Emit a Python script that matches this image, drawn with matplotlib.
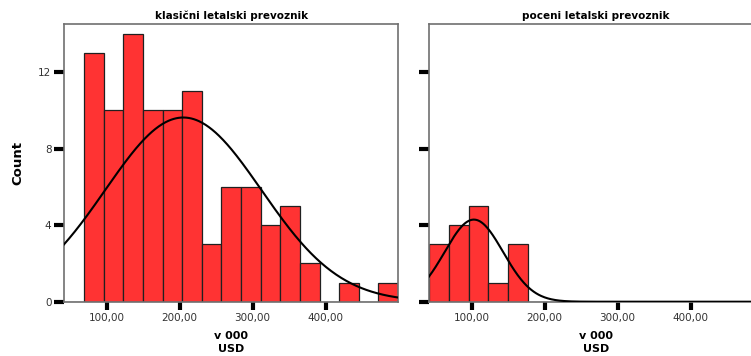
import numpy as np
import matplotlib
matplotlib.use("Agg")
import matplotlib.pyplot as plt
from matplotlib.ticker import FuncFormatter

# Histogram bins (v 000 USD), shared by both carriers
BIN_START = 42.0
BIN_WIDTH = 26.9
N_BINS = 17

# Counts per bin
klasicni_counts = [0, 13, 10, 14, 10, 10, 11, 3, 6, 6, 4, 5, 2, 0, 1, 0, 1]
poceni_counts = [3, 4, 5, 1, 3, 0, 0, 0, 0, 0, 0, 0, 0, 0, 0, 0, 0]

# Fitted normal curve parameters
klasicni_mean, klasicni_sd = 205.0, 107.0
poceni_mean, poceni_sd = 103.0, 40.0

titles = ["klasični letalski prevoznik", "poceni letalski prevoznik"]
x_ticks = [100, 200, 300, 400]
y_ticks = [0, 4, 8, 12]

BAR_COLOR = "#ff3333"
FRAME_COLOR = "#707070"


def normal_curve(x, n, mean, sd):
    return n * BIN_WIDTH * np.exp(-0.5 * ((x - mean) / sd) ** 2) / (sd * np.sqrt(2 * np.pi))


def draw_panel(ax, counts, mean, sd, title, show_ylabels):
    edges = BIN_START + BIN_WIDTH * np.arange(N_BINS)
    ax.bar(edges, counts, width=BIN_WIDTH, align="edge", color=BAR_COLOR,
           edgecolor="#202020", linewidth=0.9, zorder=2)
    xs = np.linspace(41.5, 499.5, 400)
    ax.plot(xs, normal_curve(xs, sum(counts), mean, sd), color="black",
            linewidth=1.5, zorder=3)

    ax.set_xlim(41.5, 499.5)
    ax.set_ylim(0, 14.5)
    ax.set_xticks(x_ticks)
    ax.set_yticks(y_ticks)
    ax.xaxis.set_major_formatter(FuncFormatter(lambda v, p: f"{v:.2f}".replace(".", ",")))
    ax.tick_params(axis="x", length=6, width=3, color="black", labelsize=7.5,
                   labelcolor="#333333", pad=2)
    ax.tick_params(axis="y", length=7, width=3, color="black", labelsize=7.5,
                   labelcolor="#333333", pad=2, labelleft=show_ylabels)
    for sp in ax.spines.values():
        sp.set_color(FRAME_COLOR)
        sp.set_linewidth(1.2)

    ax.set_title(title, fontsize=7.5, fontweight="bold", pad=4)
    ax.set_xlabel("v 000\nUSD", fontsize=8, fontweight="bold", labelpad=6,
                  linespacing=1.4)


fig = plt.figure(figsize=(7.51, 3.56), dpi=100)
ax1 = fig.add_axes([0.0852, 0.1525, 0.4451, 0.7792])
ax2 = fig.add_axes([0.5712, 0.1525, 0.4451, 0.7792])

draw_panel(ax1, klasicni_counts, klasicni_mean, klasicni_sd, titles[0], True)
draw_panel(ax2, poceni_counts, poceni_mean, poceni_sd, titles[1], False)

fig.text(0.024, 0.542, "Count", rotation=90, ha="center", va="center",
         fontsize=9.5, fontweight="bold")

fig.savefig("out.png", dpi=100)
